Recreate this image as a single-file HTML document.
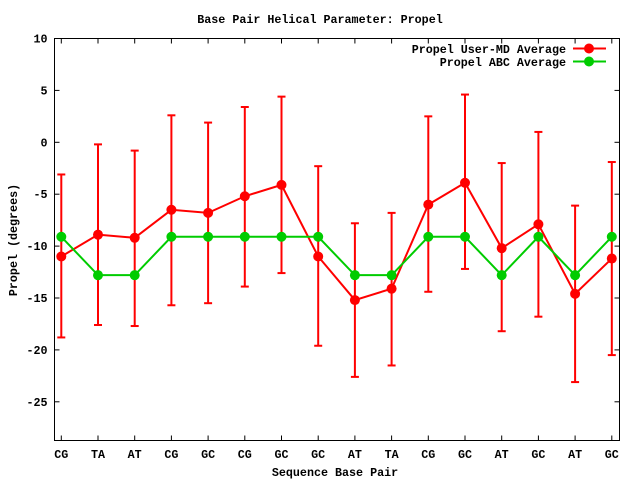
<!DOCTYPE html>
<html><head><style>body{margin:0;background:#fff}svg{display:block}text{font-family:"Liberation Mono",monospace;font-weight:bold;font-size:11.7px;fill:#000}</style></head>
<body><svg id="s" width="640" height="480" xmlns="http://www.w3.org/2000/svg"></svg>
<script>
const s=document.getElementById('s');let h='';
const L=54.5,R=619.5,T=38.5,B=440.5;
const Y=v=>142.3-10.38*v, X=i=>61.3+36.7*i;
h+=`<text x="320" y="23" text-anchor="middle">Base Pair Helical Parameter: Propel</text>`;
for(const v of [10,5,0,-5,-10,-15,-20,-25]){const y=Y(v);h+=`<line x1="${L}" y1="${y}" x2="${L+5}" y2="${y}" stroke="#000"/><line x1="${R}" y1="${y}" x2="${R-5}" y2="${y}" stroke="#000"/><text x="${L-7}" y="${y+4}" text-anchor="end">${v}</text>`;}
const lab=["CG","TA","AT","CG","GC","CG","GC","GC","AT","TA","CG","GC","AT","GC","AT","GC"];
lab.forEach((t,i)=>{const x=X(i);h+=`<line x1="${x}" y1="${B}" x2="${x}" y2="${B-5}" stroke="#000"/><line x1="${x}" y1="${T}" x2="${x}" y2="${T+5}" stroke="#000"/><text x="${x}" y="458" text-anchor="middle">${t}</text>`;});
h+=`<rect x="${L}" y="${T}" width="${R-L}" height="${B-T}" fill="none" stroke="#000"/>`;
h+=`<text x="335" y="476" text-anchor="middle">Sequence Base Pair</text>`;
h+=`<text transform="translate(17,240) rotate(-90)" text-anchor="middle">Propel (degrees)</text>`;
const r=[-11,-8.9,-9.2,-6.5,-6.8,-5.2,-4.1,-11,-15.2,-14.1,-6,-3.9,-10.2,-7.9,-14.6,-11.2];
const hi=[-3.1,-0.2,-0.8,2.6,1.9,3.4,4.4,-2.3,-7.8,-6.8,2.5,4.6,-2,1,-6.1,-1.9];
const lo=[-18.8,-17.6,-17.7,-15.7,-15.5,-13.9,-12.6,-19.6,-22.6,-21.5,-14.4,-12.2,-18.2,-16.8,-23.1,-20.5];
const g=lab.map(t=>(t=="CG"||t=="GC")?-9.1:-12.8);
r.forEach((v,i)=>{const x=X(i);h+=`<g stroke="#f00" stroke-width="2"><line x1="${x}" y1="${Y(hi[i])}" x2="${x}" y2="${Y(lo[i])}"/><line x1="${x-4}" y1="${Y(hi[i])}" x2="${x+4}" y2="${Y(hi[i])}"/><line x1="${x-4}" y1="${Y(lo[i])}" x2="${x+4}" y2="${Y(lo[i])}"/></g>`;});
h+=`<polyline fill="none" stroke="#f00" stroke-width="2" points="${r.map((v,i)=>X(i)+','+Y(v)).join(' ')}"/>`;
r.forEach((v,i)=>h+=`<circle cx="${X(i)}" cy="${Y(v)}" r="5" fill="#f00"/>`);
h+=`<polyline fill="none" stroke="#0c0" stroke-width="2" points="${g.map((v,i)=>X(i)+','+Y(v)).join(' ')}"/>`;
g.forEach((v,i)=>h+=`<circle cx="${X(i)}" cy="${Y(v)}" r="5" fill="#0c0"/>`);
h+=`<text x="566" y="53" text-anchor="end">Propel User-MD Average</text><line x1="573" y1="48.5" x2="606" y2="48.5" stroke="#f00" stroke-width="2"/><circle cx="589" cy="48.5" r="5" fill="#f00"/>`;
h+=`<text x="566" y="66" text-anchor="end">Propel ABC Average</text><line x1="573" y1="61.5" x2="606" y2="61.5" stroke="#0c0" stroke-width="2"/><circle cx="589" cy="61.5" r="5" fill="#0c0"/>`;
s.innerHTML=h;
</script></body></html>
